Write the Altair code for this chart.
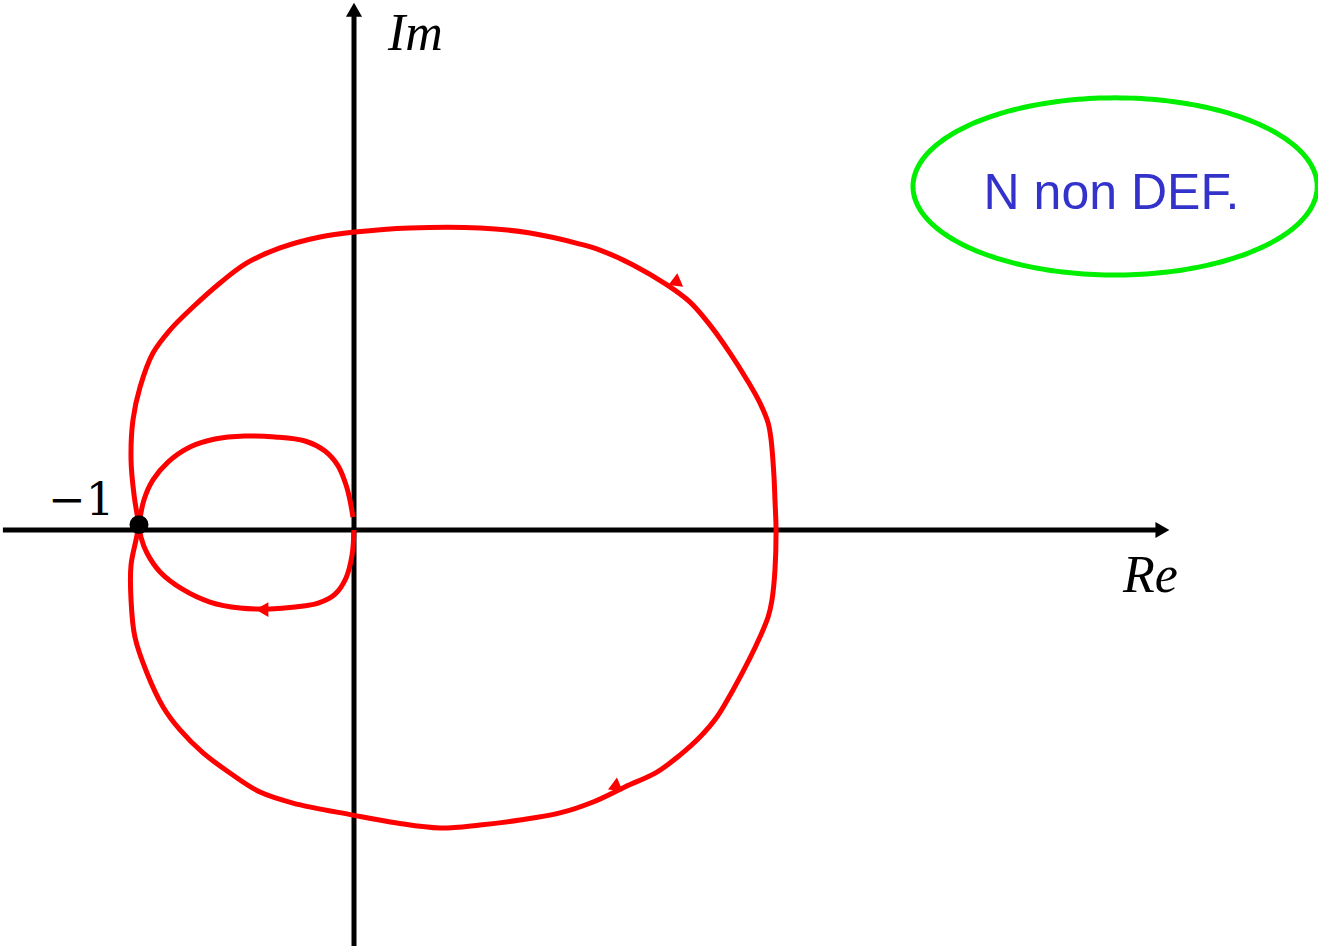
import numpy as np
import pandas as pd
import altair as alt

# Nyquist diagram: Re/Im plane, curve readings in real units
outer_re = [-1.000, -1.023, -1.037, -1.028, -0.995, -0.935, -0.856, -0.749, -0.623, -0.498,
            -0.344, -0.158, 0.005, 0.260, 0.586, 0.819, 1.051, 1.144, 1.298, 1.456,
            1.563, 1.656, 1.749, 1.828, 1.888, 1.926, 1.940, 1.953, 1.958, 1.963,
            1.958, 1.944, 1.926, 1.888, 1.842, 1.763, 1.688, 1.609, 1.516, 1.409,
            1.260, 1.112, 0.958, 0.772, 0.586, 0.400, 0.200, -0.005, -0.284,
            -0.437, -0.577, -0.702, -0.809, -0.888, -0.963, -1.019, -1.037, -1.037, -1.014,
            -1.000]
outer_im = [0.023, 0.163, 0.326, 0.512, 0.665, 0.823, 0.930, 1.037, 1.149, 1.242,
            1.312, 1.363, 1.386, 1.405, 1.405, 1.381, 1.330, 1.302, 1.233, 1.140,
            1.060, 0.953, 0.823, 0.698, 0.591, 0.498, 0.419, 0.256, 0.140, 0.000,
            -0.186, -0.326, -0.405, -0.498, -0.595, -0.744, -0.870, -0.963, -1.047, -1.126,
            -1.195, -1.265, -1.316, -1.349, -1.372, -1.386, -1.363, -1.326, -1.270,
            -1.219, -1.130, -1.037, -0.930, -0.823, -0.665, -0.498, -0.326, -0.163, -0.047,
            0.023]

inner_up_re = [-1.000, -0.977, -0.935, -0.865, -0.763, -0.647, -0.507, -0.367, -0.228, -0.135,
               -0.074, -0.037, -0.019, -0.005]
inner_up_im = [0.023, 0.140, 0.233, 0.316, 0.386, 0.423, 0.437, 0.433, 0.414, 0.367,
               0.298, 0.209, 0.140, 0.060]

inner_lo_re = [0.000, -0.009, -0.037, -0.088, -0.167, -0.274, -0.391, -0.530, -0.670, -0.800,
               -0.902, -0.963, -0.991, -1.000]
inner_lo_im = [0.000, -0.116, -0.223, -0.298, -0.340, -0.358, -0.367, -0.363, -0.335, -0.274,
               -0.195, -0.107, -0.033, 0.023]

# direction markers along the curve (angle: clockwise from up)
arrow_re = [1.507, 1.209, -0.428]
arrow_im = [1.149, -1.195, -0.370]
arrow_angle = [127, 247, 270]

# critical point -1
crit_re = [-1.0]
crit_im = [0.025]

# axes
axis_x1 = [-1.633, 0.0]
axis_y1 = [0.0, -1.935]
axis_x2 = [3.745, 0.0]
axis_y2 = [0.0, 2.395]
head_re = [3.760, 0.0]
head_im = [0.0, 2.420]
head_shape = ["triangle-right", "triangle-up"]

# annotation ellipse
ell_center = [3.540, 1.598]
ell_radius = [0.940, 0.412]

X_DOMAIN = [-354 / 215, (1318 - 354) / 215]
Y_DOMAIN = [(530 - 946) / 215, 530 / 215]

xs = alt.Scale(domain=X_DOMAIN, nice=False, zero=False)
ys = alt.Scale(domain=Y_DOMAIN, nice=False, zero=False)


def X(field="re"):
    return alt.X(f"{field}:Q", scale=xs, axis=None)


def Y(field="im"):
    return alt.Y(f"{field}:Q", scale=ys, axis=None)


curves = pd.concat([
    pd.DataFrame({"re": outer_re, "im": outer_im, "seg": "outer", "i": range(len(outer_re))}),
    pd.DataFrame({"re": inner_up_re, "im": inner_up_im, "seg": "inner_up", "i": range(len(inner_up_re))}),
    pd.DataFrame({"re": inner_lo_re, "im": inner_lo_im, "seg": "inner_lo", "i": range(len(inner_lo_re))}),
])

axes_df = pd.DataFrame({"re": axis_x1, "im": axis_y1, "re2": axis_x2, "im2": axis_y2})
heads_df = pd.DataFrame({"re": head_re, "im": head_im, "shape": head_shape})
arrows_df = pd.DataFrame({"re": arrow_re, "im": arrow_im, "angle": arrow_angle})
crit_df = pd.DataFrame({"re": crit_re, "im": crit_im})

t = np.linspace(0, 2 * np.pi, 241)
ell_df = pd.DataFrame({
    "re": ell_center[0] + ell_radius[0] * np.cos(t),
    "im": ell_center[1] + ell_radius[1] * np.sin(t),
    "i": np.arange(len(t)),
})

axes_layer = alt.Chart(axes_df).mark_rule(color="black", strokeWidth=5).encode(
    x=X(), y=Y(), x2="re2:Q", y2="im2:Q"
)

heads_layer = alt.Chart(heads_df).mark_point(
    filled=True, color="black", opacity=1, size=260
).encode(x=X(), y=Y(), shape=alt.Shape("shape:N", scale=None, legend=None))

curve_layer = alt.Chart(curves).mark_line(
    color="#ff0000", strokeWidth=5, interpolate="catmull-rom", strokeJoin="round"
).encode(x=X(), y=Y(), detail="seg:N", order="i:Q")

arrow_layer = alt.Chart(arrows_df).mark_point(
    filled=True, color="#ff0000", opacity=1, size=220, shape="triangle-up"
).encode(x=X(), y=Y(), angle=alt.Angle("angle:Q", scale=None))

crit_layer = alt.Chart(crit_df).mark_point(
    filled=True, color="black", opacity=1, size=360, shape="circle"
).encode(x=X(), y=Y())

ell_layer = alt.Chart(ell_df).mark_line(color="#00ee00", strokeWidth=5).encode(
    x=X(), y=Y(), order="i:Q"
)

labels_df = pd.DataFrame({
    "re": [0.158, 3.577, -1.115],
    "im": [2.233, -0.288, 0.070],
    "text": ["Im", "Re", "\u22121"],
})

im_re_text = alt.Chart(labels_df.iloc[:2]).mark_text(
    font="Liberation Serif", fontStyle="italic", fontSize=52, align="left",
    baseline="alphabetic", color="black"
).encode(x=X(), y=Y(), text="text:N")

minus_one_text = alt.Chart(labels_df.iloc[2:]).mark_text(
    font="DejaVu Serif", fontSize=45, align="right", baseline="alphabetic", color="black"
).encode(x=X(), y=Y(), text="text:N")

note_df = pd.DataFrame({"re": [3.523], "im": [1.493], "text": ["N non DEF."]})
note_text = alt.Chart(note_df).mark_text(
    font="Liberation Sans", fontSize=50, align="center", baseline="alphabetic", color="#3333cc"
).encode(x=X(), y=Y(), text="text:N")

chart = alt.layer(
    axes_layer, heads_layer, curve_layer, arrow_layer, crit_layer,
    ell_layer, im_re_text, minus_one_text, note_text
).properties(
    width=1318, height=946, padding=0, autosize=alt.AutoSizeParams(type="none"),
    background="white"
).configure_view(stroke=None)

chart.save("out.html", embed_options={"renderer": "svg", "actions": False})
